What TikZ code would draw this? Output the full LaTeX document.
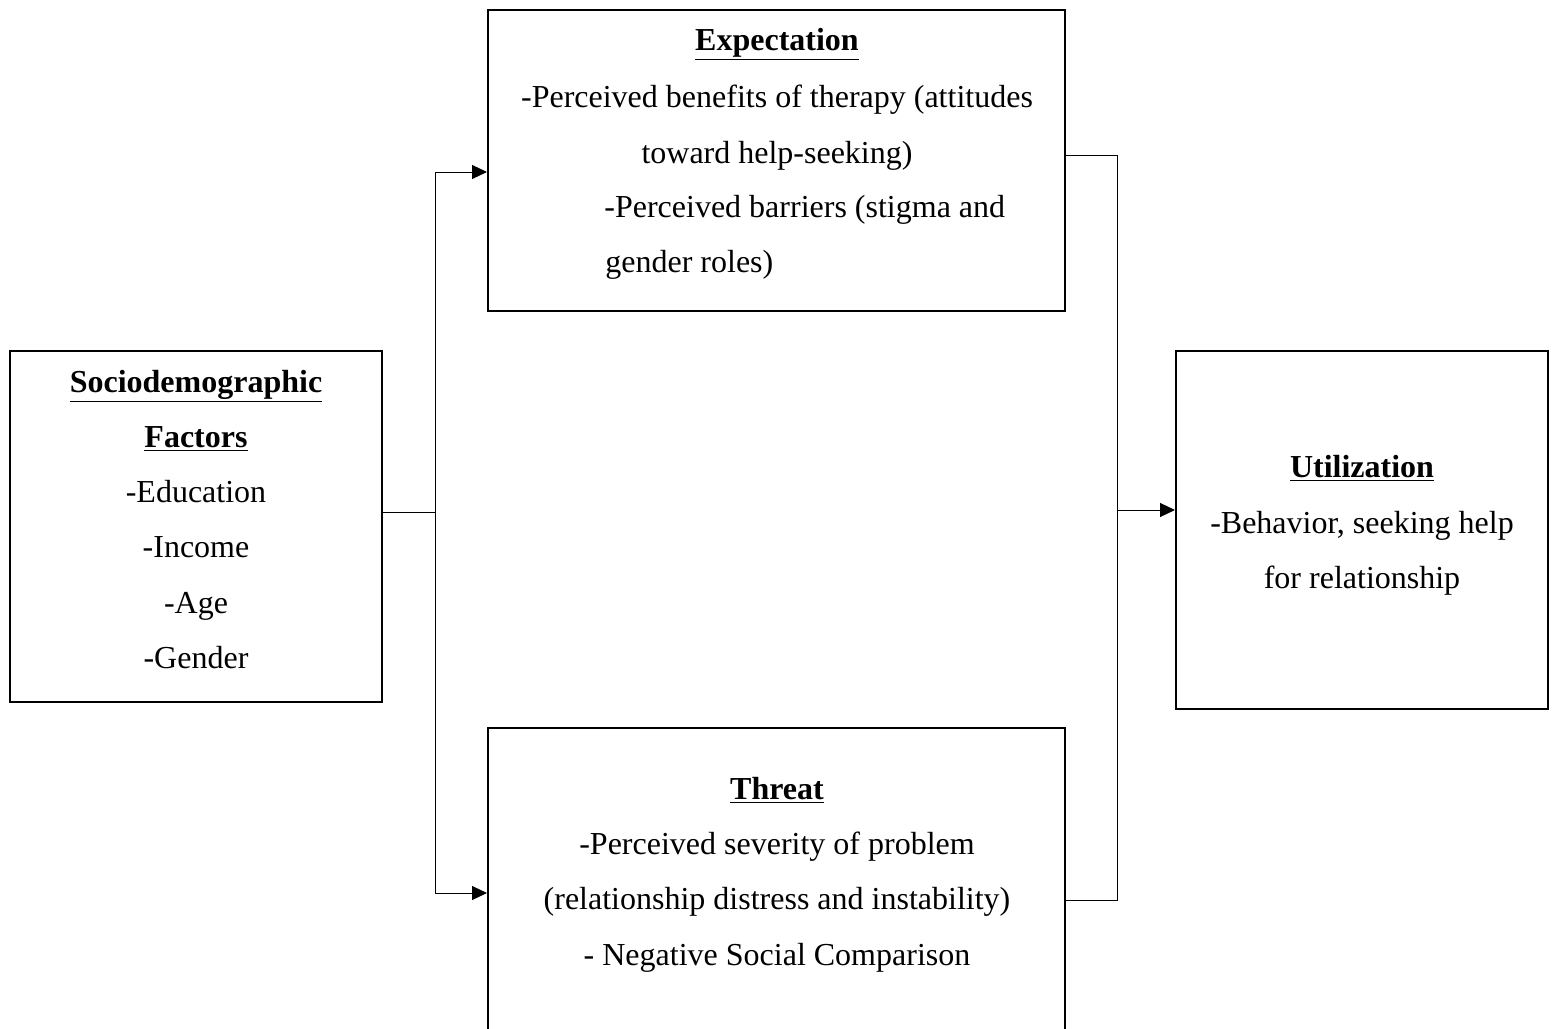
\documentclass[tikz,border=0pt]{standalone}
\usepackage{fontspec}
\setmainfont{Liberation Serif}
\usetikzlibrary{arrows.meta}

\tikzset{
	boxnode/.style={draw=black, line width=1pt, inner sep=0pt},
	txt/.style={inner sep=0pt, anchor=base, font=\fontsize{16pt}{18pt}\selectfont},
	head/.style={txt, font=\fontsize{16pt}{18pt}\selectfont\bfseries},
	link/.style={black, line width=0.5pt},
	arr/.style={link, -{Triangle[length=7.5pt,width=7pt]}}
}
\newcommand{\hd}[1]{\underline{#1}}

\begin{document}
\begin{tikzpicture}[x=0.5pt,y=0.5pt]
	\useasboundingbox (0,0) rectangle (1556,-1028);
	\clip (0,0) rectangle (1556,-1028);
	% boxes
	\node [boxnode, minimum width=186pt, minimum height=175.5pt] (soc) at (196,-526.5) {};
	\node [boxnode, minimum width=288.5pt, minimum height=150.5pt] (exp) at (776.5,-160.5) {};
	\node [boxnode, minimum width=288.5pt, minimum height=170pt] (thr) at (776.5,-898) {};
	\node [boxnode, minimum width=186pt, minimum height=179pt] (uti) at (1362,-530) {};
	% sociodemographic text
	\node [head] (socA) at (196,-392) {\hd{Sociodemographic}};
	\node [head] (socB) at (196,-447) {\hd{Factors}};
	\node [txt] (socC) at (196,-502) {-Education};
	\node [txt] (socD) at (196,-557) {-Income};
	\node [txt] (socE) at (196,-613) {-Age};
	\node [txt] (socF) at (196,-668) {-Gender};
	% expectation text
	\node [head] (expA) at (777,-50) {\hd{Expectation}};
	\node [txt] (expB) at (777,-107) {-Perceived benefits of therapy (attitudes};
	\node [txt] (expC) at (777,-163) {toward help-seeking)};
	\node [txt, anchor=base west] (expD) at (604,-217) {-Perceived barriers (stigma and};
	\node [txt, anchor=base west] (expE) at (605,-272) {gender roles)};
	% threat text
	\node [head] (thrA) at (777,-799) {\hd{Threat}};
	\node [txt] (thrB) at (777,-854) {-Perceived severity of problem};
	\node [txt] (thrC) at (777,-909) {(relationship distress and instability)};
	\node [txt] (thrD) at (777,-965) {- Negative Social Comparison};
	% utilization text
	\node [head] (utiA) at (1362,-477) {\hd{Utilization}};
	\node [txt] (utiB) at (1362,-533) {-Behavior, seeking help};
	\node [txt] (utiC) at (1362,-588) {for relationship};
	% connectors
	\coordinate (splitL) at (435,-512);
	\coordinate (splitR) at (1117,-510);
	\draw [link] (soc.east |- splitL) -- (splitL);
	\draw [arr] (splitL) |- (exp.west |- 0,-172);
	\draw [arr] (splitL) |- (thr.west |- 0,-893);
	\draw [link] (exp.east |- 0,-155) -| (splitR);
	\draw [link] (thr.east |- 0,-900) -| (splitR);
	\draw [arr] (splitR) -- (uti.west |- splitR);
\end{tikzpicture}
\end{document}
